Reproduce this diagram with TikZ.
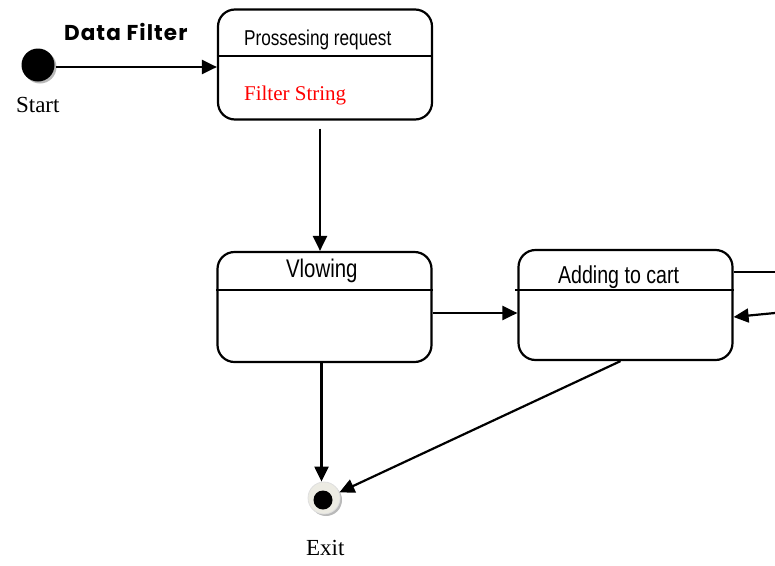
\documentclass[tikz,border=0pt]{standalone}
\usepackage{fontspec}
\setmainfont{Liberation Serif}
\newfontfamily\boxfont[FakeStretch=0.8]{Liberation Sans}
\newfontfamily\headfont[LetterSpace=5]{Poppins}
\usetikzlibrary{arrows.meta,shadows}
\definecolor{ringfill}{HTML}{ECEBE3}
\definecolor{filterred}{HTML}{FF0000}
\begin{document}
\begin{tikzpicture}[x=1pt,y=-1pt,line width=2.2pt,
  statebox/.style={draw,rounded corners=17pt,minimum width=214pt,minimum height=110pt,inner sep=0pt},
  flow/.style={-{Triangle[length=15pt,width=14pt]}},
  txt/.style={inner sep=0pt,anchor=base west},
  shade/.style={drop shadow={shadow xshift=2pt,shadow yshift=-2pt,fill=gray!55,opacity=1}}]
\useasboundingbox (0,0) rectangle (775,565);

% states
\node[statebox] (b1) at (325,64.5) {};
\node[statebox] (b2) at (324.5,307) {};
\node[statebox] (b3) at (625.5,305) {};
\draw (b1.west |- 0,56) -- (b1.east |- 0,56);
\draw (b2.west |- 0,290) -- (b2.east |- 0,290);
\draw ([xshift=-2pt]b3.west |- 0,290) -- (b3.east |- 0,290);

% compartment texts
\node[txt] (t1) at (243,45) {\boxfont\fontsize{21.5}{24}\selectfont Prossesing request};
\node[txt,text=filterred] (t1b) at (243,100) {\fontsize{21}{24}\selectfont Filter String};
\node[txt] (t2) at (285,277) {\boxfont\fontsize{25.5}{28}\selectfont Vlowing};
\node[txt] (t3) at (557,283) {\boxfont\fontsize{24.5}{28}\selectfont Adding to cart};

% start pseudostate
\node[circle,fill=black,minimum size=33pt,inner sep=0pt,shade] (start) at (38,65) {};
\node[txt] (startlbl) at (15,112) {\fontsize{23}{26}\selectfont Start};
\node[txt] (head) at (63,40) {\headfont\bfseries\fontsize{21.5}{24}\selectfont Data Filter};

% final state
\node[circle,fill=ringfill,draw=gray!25,line width=0.8pt,minimum size=32pt,inner sep=0pt,shade] (exit) at (324,498) {};
\node[circle,fill=black,minimum width=19pt,minimum height=17pt,inner sep=0pt] (exitdot) at (323,500) {};
\node[txt] (exitlbl) at (305,555) {\fontsize{23}{26}\selectfont Exit};

% off-page ends
\coordinate (rout) at (775,272);
\coordinate (rin) at (775,313);

% transitions
\draw[flow] (start.east |- 0,67) -- (b1.west |- 0,67);
\draw[flow] ([xshift=-5pt,yshift=-8pt]b1.south) -- ([xshift=-5pt]b2.north -| b1.south);
\draw[flow] (b2.east |- 0,313) -- (b3.west |- 0,313);
\draw (b3.east |- rout) -- (rout);
\draw[flow] (rin) -- (b3.east |- 0,317);
\draw[flow] ([xshift=-3pt]b2.south) -- ([xshift=-3pt]b2.south |- exit.north);
\draw[flow] ([xshift=-5pt]b3.south) -- (exit.20);
\end{tikzpicture}
\end{document}
